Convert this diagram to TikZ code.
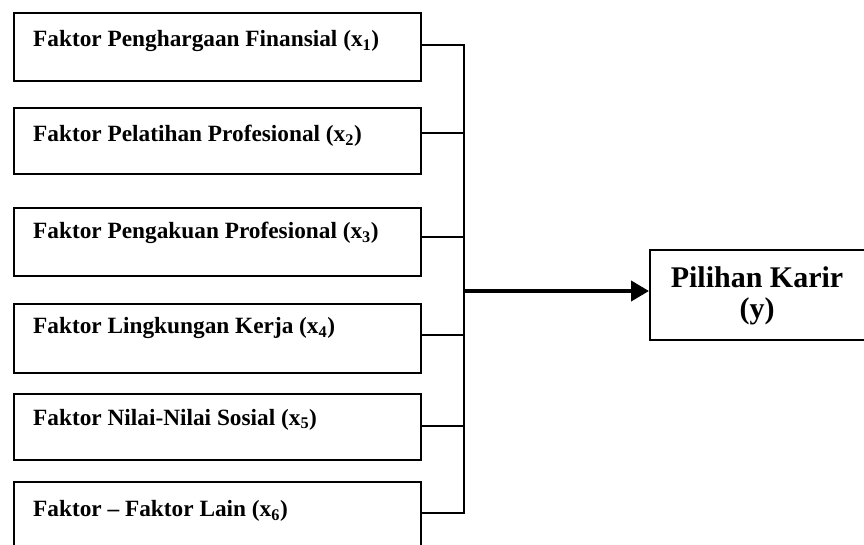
\documentclass[tikz,border=0pt]{standalone}
\usepackage{fontspec}
\setmainfont{Liberation Serif}
\usetikzlibrary{arrows.meta}
\begin{document}
\begin{tikzpicture}[x=1pt,y=-1pt,
  fbox/.style={draw, line width=1.6pt, anchor=north west, minimum width=407pt, inner sep=0pt},
  ftext/.style={anchor=base west, inner sep=0pt, font=\bfseries\fontsize{23.3}{26}\selectfont},
  conn/.style={line width=1.8pt},
  busline/.style={line width=2.6pt},
  bigarrow/.style={line width=4pt, -{Triangle[length=18pt,width=20pt]}},
  ybox/.style={draw, line width=1.8pt, anchor=north west, minimum width=222pt, minimum height=90pt, inner sep=0pt},
  ytext/.style={inner sep=0pt, font=\bfseries\fontsize{30}{31}\selectfont, align=center}]
\useasboundingbox (0,0) rectangle (864,545);
% input boxes
\node[fbox, minimum height=68pt] (b1) at (13,12) {};
\node[fbox, minimum height=66pt] (b2) at (13,107) {};
\node[fbox, minimum height=68pt] (b3) at (13,207) {};
\node[fbox, minimum height=69pt] (b4) at (13,303) {};
\node[fbox, minimum height=66pt] (b5) at (13,393) {};
\node[fbox, minimum height=90pt] (b6) at (13,481) {};
\node[ftext] (t1) at (33,46.5) {Faktor Penghargaan Finansial (x\textsubscript{1})};
\node[ftext] (t2) at (33,141.5) {Faktor Pelatihan Profesional (x\textsubscript{2})};
\node[ftext] (t3) at (33,238.5) {Faktor Pengakuan Profesional (x\textsubscript{3})};
\node[ftext] (t4) at (33,333.5) {Faktor Lingkungan Kerja (x\textsubscript{4})};
\node[ftext] (t5) at (33,425) {Faktor Nilai-Nilai Sosial (x\textsubscript{5})};
\node[ftext] (t6) at (33,516.5) {Faktor -- Faktor Lain (x\textsubscript{6})};
% bus coordinates
\coordinate (j1) at (464,45);
\coordinate (j2) at (464,133);
\coordinate (j3) at (464,237);
\coordinate (j4) at (464,335);
\coordinate (j5) at (464,426);
\coordinate (j6) at (464,513);
\coordinate (jm) at (464,291);
\draw[conn] (b1.east |- j1) -- (j1);
\draw[conn] (b2.east |- j2) -- (j2);
\draw[conn] (b3.east |- j3) -- (j3);
\draw[conn] (b4.east |- j4) -- (j4);
\draw[conn] (b5.east |- j5) -- (j5);
\draw[conn] (b6.east |- j6) -- (j6);
\draw[busline, line cap=rect] (j1) -- (j6);
% target
\node[ybox] (y) at (649,249) {};
\node[ytext] (ty) at (757,296) {Pilihan Karir\\(y)};
\draw[bigarrow] (jm) -- (y.west |- jm);
\end{tikzpicture}
\end{document}
